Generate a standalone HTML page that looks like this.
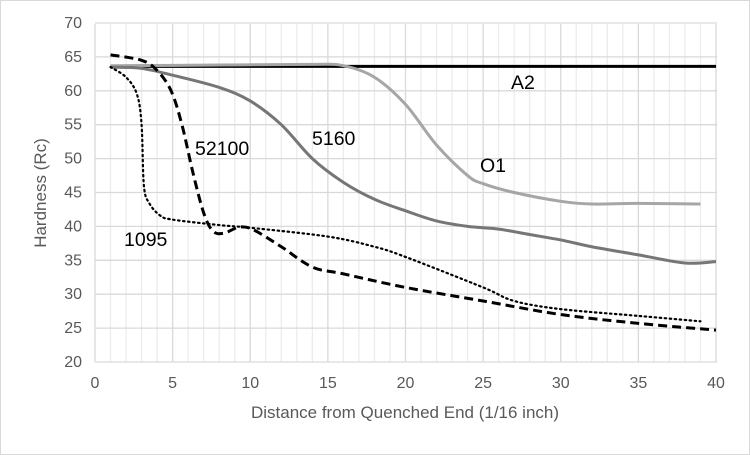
<!DOCTYPE html>
<html><head><meta charset="utf-8"><style>
html,body{margin:0;padding:0;background:#fff}
svg{display:block;font-family:"Liberation Sans",sans-serif}
</style></head><body>
<svg id="s" width="750" height="455" viewBox="0 0 750 455" xmlns="http://www.w3.org/2000/svg">
<rect x="0.5" y="0.5" width="749" height="454" fill="#fff" stroke="#d9d9d9"/>
<g id="grid"></g>
<g id="ticks" fill="#595959" font-size="16"></g>
<text x="405" y="418" text-anchor="middle" font-size="17" fill="#595959">Distance from Quenched End (1/16 inch)</text>
<text transform="translate(46,193) rotate(-90)" text-anchor="middle" font-size="17" fill="#595959">Hardness (Rc)</text>
<g id="lines" fill="none"></g>
<g font-size="19.5" fill="#000">
<text x="511" y="89">A2</text>
<text x="480" y="172">O1</text>
<text x="312" y="145">5160</text>
<text x="195" y="155">52100</text>
<text x="124" y="246">1095</text>
</g>
</svg>
<script>
const X=v=>95+15.525*v, Y=h=>362-(h-20)*6.78;
let g='';
for(let i=0;i<=40;i++){const x=X(i);g+=`<line x1="${x}" y1="24" x2="${x}" y2="362" stroke="${i%5?'#ececec':'#d9d9d9'}" stroke-width="1.3"/>`;}
for(let h=20;h<=70;h+=5){g+=`<line x1="95" y1="${Y(h)}" x2="717" y2="${Y(h)}" stroke="#d9d9d9" stroke-width="1.3"/>`;}
document.getElementById('grid').innerHTML=g;
let t='';
for(let h=20;h<=70;h+=5)t+=`<text x="82" y="${Y(h)+5}" text-anchor="end">${h}</text>`;
for(let v=0;v<=40;v+=5)t+=`<text x="${X(v)}" y="388" text-anchor="middle">${v}</text>`;
document.getElementById('ticks').innerHTML=t;
function path(p){const q=p.map(a=>[X(a[0]),Y(a[1])]);let d=`M${q[0][0]},${q[0][1]}`;
for(let i=0;i<q.length-1;i++){const p0=q[i-1]||q[i],p1=q[i],p2=q[i+1],p3=q[i+2]||p2;
d+=` C${p1[0]+(p2[0]-p0[0])/6},${p1[1]+(p2[1]-p0[1])/6} ${p2[0]-(p3[0]-p1[0])/6},${p2[1]-(p3[1]-p1[1])/6} ${p2[0]},${p2[1]}`;}return d;}
const S=[
[[[1,63.6],[40,63.6]],'#000',3,''],
[[[1,63.7],[8,63.8],[14,63.9],[16,63.7],[18,62],[20,58],[22,52],[24,47.5],[25,46.3],[27,45],[30,43.7],[32,43.3],[35,43.4],[39,43.3]],'#a6a6a6',3,''],
[[[1,63.5],[3,63.3],[5,62.3],[8,60.5],[10,58.5],[12,55],[14,50],[16,46.5],[18,44],[20,42.3],[22,40.8],[24,40],[26,39.6],[28,38.8],[30,38],[32,37],[35,35.8],[38,34.6],[40,34.8]],'#767676',3,''],
[[[1,65.3],[3,64.5],[4,63],[4.9,60],[5.6,55],[6.3,48],[7,42],[7.6,39.3],[8.3,39],[9.3,39.9],[10.2,39.5],[12,37],[14,34],[16,33],[20,31],[25,29],[30,27],[35,25.7],[40,24.7]],'#000',3,'9,5'],
[[[1,63.5],[2,62],[2.7,59.5],[3,55],[3.15,46],[3.5,43.4],[4.2,41.6],[5,41],[8,40.2],[10,39.8],[15,38.5],[18,37],[20,35.5],[25,31],[27,29],[30,27.8],[35,26.8],[39,26]],'#000',2.2,'1.5,3.5']];
let l='';for(const s of S)l+=`<path d="${path(s[0])}" stroke="${s[1]}" stroke-width="${s[2]}" ${s[3]?`stroke-dasharray="${s[3]}"`:''} stroke-linecap="${s[3]=='1.5,3.5'?'round':'butt'}"/>`;
document.getElementById('lines').innerHTML=l;
</script>
</body></html>
